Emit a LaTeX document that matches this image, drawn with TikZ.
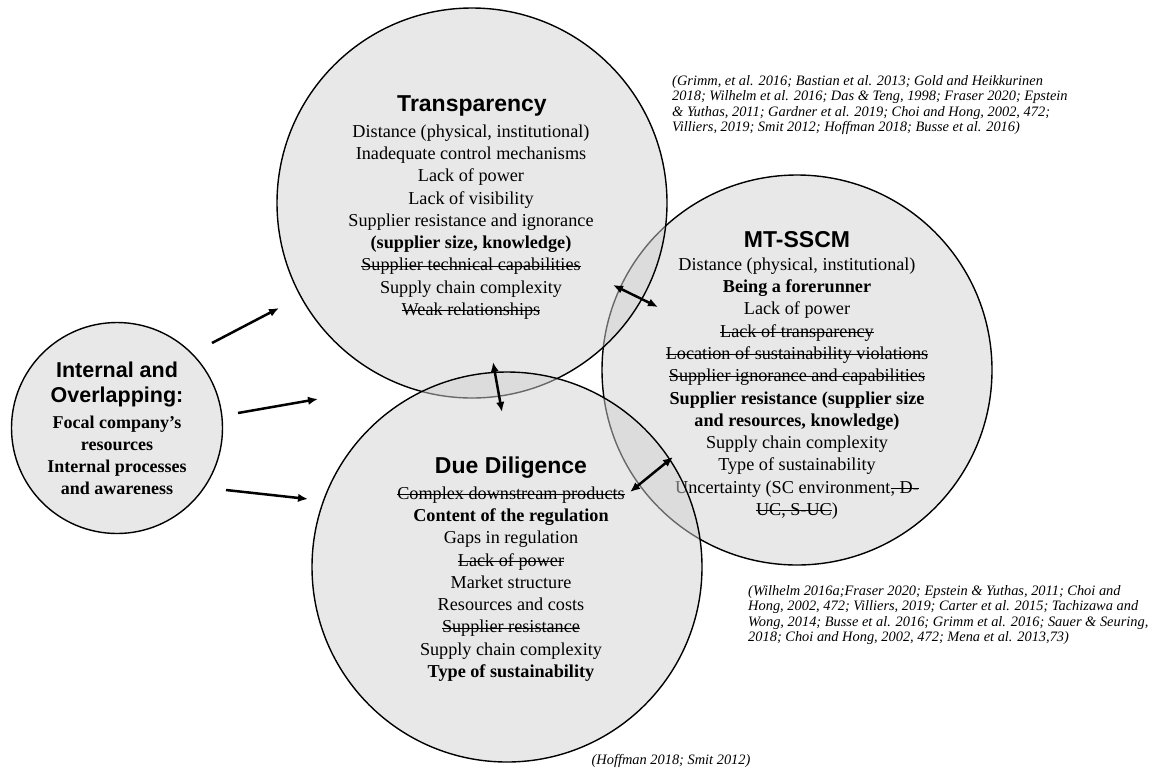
\documentclass[tikz,border=0pt]{standalone}
\usepackage{fontspec}
\setmainfont{Liberation Serif}
\setsansfont{Liberation Sans}
\usetikzlibrary{arrows.meta}
\newsavebox{\strikebox}
\newcommand{\struck}[1]{\sbox\strikebox{#1}\rlap{\rule[0.25em]{\wd\strikebox}{0.9pt}}\usebox\strikebox}

\begin{document}
\begin{tikzpicture}[x=1pt,y=-1pt,
  bubble/.style={circle,draw,line width=1.4pt,fill=black!18,fill opacity=0.5,minimum size=390pt,inner sep=0pt},
  head/.style={font=\sffamily\bfseries\fontsize{23}{26}\selectfont,align=center,inner sep=0pt},
  items/.style={font=\fontsize{18.2}{22.3}\selectfont,align=center,inner sep=0pt},
  refs/.style={font=\itshape\fontsize{14.4}{15.5}\selectfont,align=left,inner sep=0pt,anchor=north west},
  arr/.style={line width=2.5pt,-{Latex[length=10pt,width=8.5pt]}},
  both/.style={line width=2.5pt,{Latex[length=10pt,width=8.5pt]}-{Latex[length=10pt,width=8.5pt]}}]
\useasboundingbox (0,0) rectangle (1162,769);

\node[bubble] (mt) at (797,370) {};
\node[head] (mthead) at (797,240) {MT-SSCM};
\node[items] (mtlist) at (797,388.5) {Distance (physical, institutional)\\
  \textbf{Being a forerunner}\\
  Lack of power\\
  \struck{Lack of transparency}\\
  \struck{Location of sustainability violations}\\
  \struck{Supplier ignorance and capabilities}\\
  \textbf{Supplier resistance (supplier size}\\
  \textbf{and resources, knowledge)}\\
  Supply chain complexity\\
  Type of sustainability\\
  Uncertainty (SC environment\struck{, D-}\\
  \struck{UC, S-UC})};

\node[bubble] (tr) at (472,203) {};
\node[head] (trhead) at (472,106) {Transparency};
\node[items] (trlist) at (471,222) {Distance (physical, institutional)\\
  Inadequate control mechanisms\\
  Lack of power\\
  Lack of visibility\\
  Supplier resistance and ignorance\\
  \textbf{(supplier size, knowledge)}\\
  \struck{Supplier technical capabilities}\\
  Supply chain complexity\\
  \struck{Weak relationships}};

\node[bubble] (dd) at (507,567) {};
\node[head] (ddhead) at (511,468) {Due Diligence};
\node[items] (ddlist) at (511,584) {\struck{Complex downstream products}\\
  \textbf{Content of the regulation}\\
  Gaps in regulation\\
  \struck{Lack of power}\\
  Market structure\\
  Resources and costs\\
  \struck{Supplier resistance}\\
  Supply chain complexity\\
  \textbf{Type of sustainability}};

\node[bubble,minimum size=211pt] (inner) at (117,428) {};
\node[head,font=\sffamily\bfseries\fontsize{21.5}{25}\selectfont] (innerhead) at (117,384) {Internal and\\ Overlapping:};
\node[items,font=\bfseries\fontsize{18}{22}\selectfont] (innerlist) at (117,455) {Focal company’s\\
  resources\\
  Internal processes\\
  and awareness};

\node[refs] (trrefs) at (672,75) {(Grimm, et al. 2016; Bastian et al. 2013; Gold and Heikkurinen\\
  2018; Wilhelm et al. 2016; Das \& Teng, 1998; Fraser 2020; Epstein\\
  \& Yuthas, 2011; Gardner et al. 2019; Choi and Hong, 2002, 472;\\
  Villiers, 2019; Smit 2012; Hoffman 2018; Busse et al. 2016)};
\node[refs] (mtrefs) at (748,585) {(Wilhelm 2016a;Fraser 2020; Epstein \& Yuthas, 2011; Choi and\\
  Hong, 2002, 472; Villiers, 2019; Carter et al. 2015; Tachizawa and\\
  Wong, 2014; Busse et al. 2016; Grimm et al. 2016; Sauer \& Seuring,\\
  2018; Choi and Hong, 2002, 472; Mena et al. 2013,73)};
\node[refs,anchor=center] (ddrefs) at (671,761) {(Hoffman 2018; Smit 2012)};

\coordinate (in1) at (212,343);
\coordinate (in2) at (238,413);
\coordinate (in3) at (226,490);
\coordinate (totr) at (279,308);
\coordinate (togap) at (318,399);
\coordinate (todd) at (308,499);
\coordinate (trdd1) at (493,362);
\coordinate (trdd2) at (502,412);
\coordinate (trmt1) at (613,285);
\coordinate (trmt2) at (658,307);
\coordinate (ddmt1) at (630,492);
\coordinate (ddmt2) at (673,457);

\draw[arr] (in1) -- (totr);
\draw[arr] (in2) -- (togap);
\draw[arr] (in3) -- (todd);
\draw[both] (trdd1) -- (trdd2);
\draw[both] (trmt1) -- (trmt2);
\draw[both] (ddmt1) -- (ddmt2);
\end{tikzpicture}
\end{document}
